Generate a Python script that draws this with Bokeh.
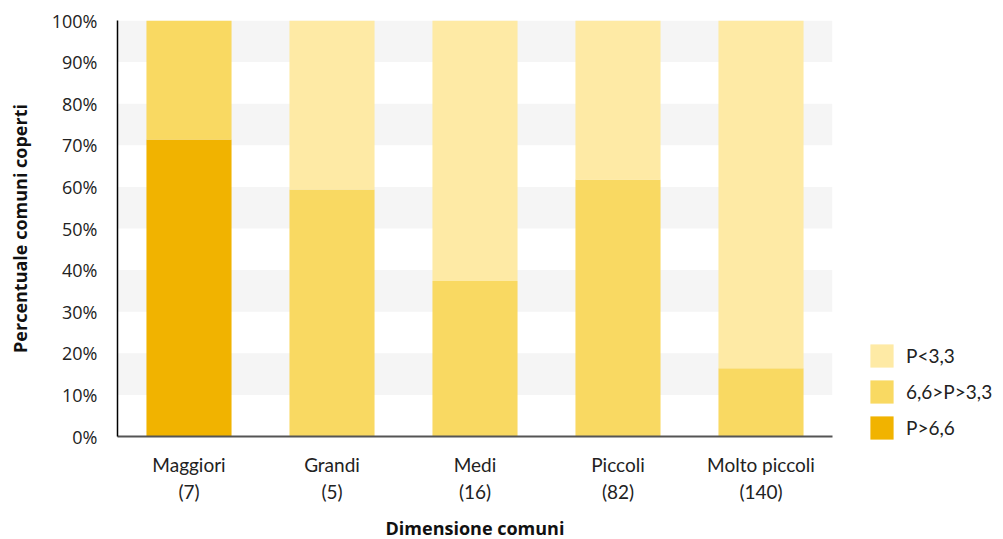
from bokeh.plotting import figure
from bokeh.models import ColumnDataSource, Legend, LegendItem, FixedTicker, CustomJSTickFormatter
from bokeh.embed import file_html
from bokeh.resources import INLINE

categories = ["Maggiori\n(7)", "Grandi\n(5)", "Medi\n(16)", "Piccoli\n(82)", "Molto piccoli\n(140)"]
series_names = ["P>6,6", "6,6>P>3,3", "P<3,3"]
high = [71.4, 0.0, 0.0, 0.0, 0.0]
mid = [28.6, 59.4, 37.4, 61.8, 16.4]
low = [0.0, 40.6, 62.6, 38.2, 83.6]
colors = ["#f1b300", "#f9d962", "#feeaa5"]
y_ticks = [0, 10, 20, 30, 40, 50, 60, 70, 80, 90, 100]

FONT = "Open Sans"
FONT2 = "Lato"

src = ColumnDataSource(dict(cat=categories, high=high, mid=mid, low=low))

p = figure(x_range=categories, y_range=(0, 100), output_backend="svg", toolbar_location=None,
           frame_width=715, frame_height=416, min_border_left=117, min_border_top=20,
           min_border_right=0, min_border_bottom=95)

rs = p.vbar_stack(["high", "mid", "low"], x="cat", width=0.595, color=colors, source=src,
                  line_color=None)

p.xgrid.grid_line_color = None
p.ygrid.grid_line_color = None
p.ygrid.ticker = FixedTicker(ticks=y_ticks)
p.ygrid.band_fill_color = "#f5f5f5"
p.ygrid.band_fill_alpha = 1.0
p.outline_line_color = None
p.background_fill_color = "white"

p.yaxis.ticker = FixedTicker(ticks=y_ticks)
p.yaxis.formatter = CustomJSTickFormatter(code="return tick.toFixed(0) + '%';")
p.yaxis.major_tick_line_color = None
p.yaxis.minor_tick_line_color = None
p.yaxis.axis_line_color = "black"
p.yaxis.axis_line_width = 1.5
p.yaxis.major_label_text_font = FONT
p.yaxis.major_label_text_font_size = "18px"
p.yaxis.major_label_text_color = "#222222"
p.yaxis.major_label_standoff = 14
p.yaxis.axis_label = "Percentuale comuni coperti"
p.yaxis.axis_label_text_font = FONT
p.yaxis.axis_label_text_font_style = "bold"
p.yaxis.axis_label_text_font_size = "18px"
p.yaxis.axis_label_text_color = "#111111"
p.yaxis.axis_label_standoff = 17

p.xaxis.major_tick_line_color = None
p.xaxis.minor_tick_line_color = None
p.xaxis.axis_line_color = "#555555"
p.xaxis.axis_line_width = 2
p.xaxis.major_label_text_font = FONT2
p.xaxis.major_label_text_font_size = "19px"
p.xaxis.major_label_text_color = "#222222"
p.xaxis.major_label_standoff = 10
p.xaxis.axis_label = "Dimensione comuni"
p.xaxis.axis_label_text_font = FONT
p.xaxis.axis_label_text_font_style = "bold"
p.xaxis.axis_label_text_font_size = "18px"
p.xaxis.axis_label_text_color = "#111111"
p.xaxis.axis_label_standoff = 10

items = [LegendItem(label=series_names[i], renderers=[rs[i]]) for i in [2, 1, 0]]
legend = Legend(items=items, location=(35, -6), border_line_color=None,
                background_fill_alpha=0.0,
                label_text_font=FONT2, label_text_font_size="19px", label_text_color="#222222",
                glyph_width=29, glyph_height=29, spacing=7, padding=0, margin=0,
                label_standoff=10)
p.add_layout(legend, "right")

open("out.html", "w").write(file_html(p, INLINE))
